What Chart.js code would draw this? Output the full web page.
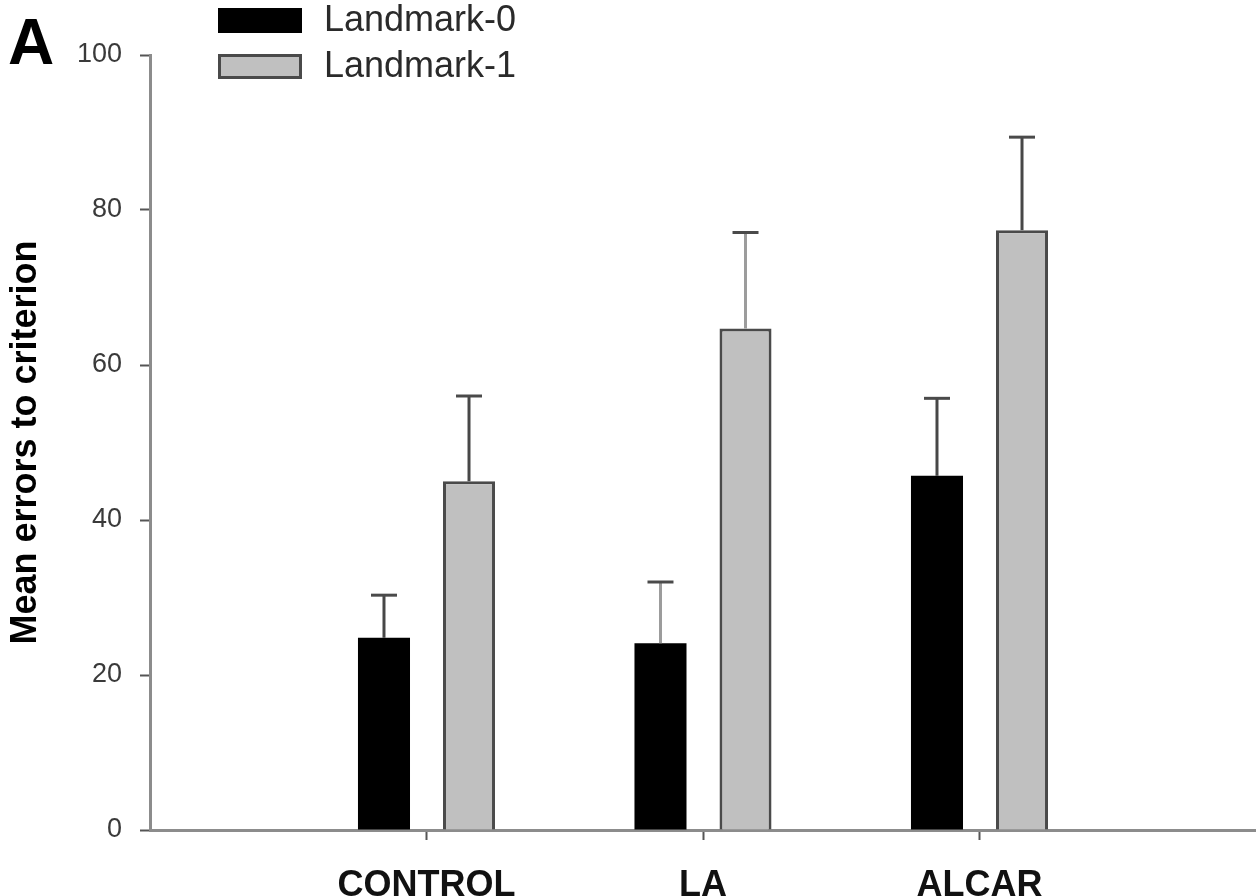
<!DOCTYPE html>
<html>
<head>
<meta charset="utf-8">
<script src="https://cdn.jsdelivr.net/npm/chart.js@4.4.1/dist/chart.umd.min.js"></script>
<style>
  html, body { margin: 0; padding: 0; background: #fff; }
  canvas { display: block; }
</style>
</head>
<body>
<canvas id="chart" width="1256" height="896"></canvas>
<script>
// Groups along the x axis (placed at positions 1..3 of a 0..4 axis)
const categories = ['CONTROL', 'LA', 'ALCAR'];
// Mean errors to criterion
const landmark0 = [24.8, 24.1, 45.7];
const landmark1 = [45.0, 64.7, 77.4];
// Upper error (SEM) for each bar
const landmark0Err = [5.5, 7.9, 10.0];
const landmark1Err = [11.0, 12.4, 12.0];
// Y axis tick values
const yTicks = [0, 20, 40, 60, 80, 100];

const FONT = '"Liberation Sans", Arial, Helvetica, sans-serif';
const errLineColors = ['#474747', '#9c9c9c', '#474747'];

const toPoints = arr => arr.map((v, i) => ({ x: i + 1, y: v }));

// Upward error whiskers with a cap
const errorBars = {
  id: 'errorBars',
  afterDatasetsDraw(chart) {
    const { ctx } = chart;
    const yScale = chart.scales.y;
    chart.data.datasets.forEach((ds, di) => {
      const meta = chart.getDatasetMeta(di);
      meta.data.forEach((bar, i) => {
        const top = yScale.getPixelForValue(ds.data[i].y + ds.errors[i]);
        ctx.save();
        ctx.strokeStyle = errLineColors[i];
        ctx.lineWidth = 3;
        ctx.beginPath();
        ctx.moveTo(bar.x, bar.y);
        ctx.lineTo(bar.x, top);
        ctx.stroke();
        ctx.strokeStyle = '#4a4a4a';
        ctx.beginPath();
        ctx.moveTo(bar.x - 13, top);
        ctx.lineTo(bar.x + 13, top);
        ctx.stroke();
        ctx.restore();
      });
    });
  }
};

// Panel letter and legend in the top-left corner
const decorations = {
  id: 'decorations',
  beforeDraw(chart) {
    const { ctx } = chart;
    ctx.save();
    ctx.fillStyle = '#fff';
    ctx.fillRect(0, 0, chart.width, chart.height);
    ctx.restore();
  },
  afterDraw(chart) {
    const { ctx } = chart;
    ctx.save();
    ctx.fillStyle = '#000';
    ctx.font = 'bold 64px ' + FONT;
    ctx.textBaseline = 'alphabetic';
    ctx.textAlign = 'left';
    ctx.fillText('A', 8, 64);

    const rows = [8, 54];
    chart.data.datasets.forEach((ds, di) => {
      const y = rows[di];
      ctx.fillStyle = ds.backgroundColor;
      ctx.fillRect(218, y, 84, 25);
      if (ds.borderWidth) {
        ctx.strokeStyle = ds.borderColor;
        ctx.lineWidth = 3;
        ctx.strokeRect(219.5, y + 1.5, 81, 22);
      }
      ctx.fillStyle = '#2a2a2a';
      ctx.font = '36px ' + FONT;
      ctx.textBaseline = 'middle';
      ctx.fillText(ds.label, 324, y + 13);
    });
    ctx.restore();
  }
};

new Chart(document.getElementById('chart'), {
  type: 'bar',
  data: {
    datasets: [
      {
        label: 'Landmark-0',
        data: toPoints(landmark0),
        errors: landmark0Err,
        backgroundColor: '#000000',
        borderWidth: 0
      },
      {
        label: 'Landmark-1',
        data: toPoints(landmark1),
        errors: landmark1Err,
        backgroundColor: '#c0c0c0',
        borderColor: '#4a4a4a',
        borderWidth: 3,
        borderSkipped: 'bottom'
      }
    ]
  },
  options: {
    responsive: false,
    animation: false,
    devicePixelRatio: 1,
    categoryPercentage: 0.615,
    barPercentage: 0.612,
    layout: { padding: { top: 55, left: 0, right: 0, bottom: 0 } },
    plugins: {
      legend: { display: false },
      tooltip: { enabled: false }
    },
    scales: {
      x: {
        type: 'linear',
        min: 0,
        max: 4,
        offset: false,
        afterBuildTicks: s => { s.ticks = [0, 1, 2, 3, 4].map(v => ({ value: v })); },
        afterFit: s => { s.height = 66; s.paddingLeft = 0; s.paddingRight = 0; },
        ticks: {
          callback: v => categories[v - 1] || '',
          font: { family: FONT, size: 36, weight: 'bold' },
          color: '#111',
          padding: 24,
          maxRotation: 0,
          autoSkip: false
        },
        grid: {
          offset: false,
          drawOnChartArea: false,
          tickLength: 10,
          tickWidth: 2,
          tickColor: c => (c.tick && (c.tick.value === 0 || c.tick.value === 4)) ? 'rgba(0,0,0,0)' : '#555'
        },
        border: { color: '#8c8c8c', width: 3 }
      },
      y: {
        min: 0,
        max: 100,
        afterBuildTicks: s => { s.ticks = yTicks.map(v => ({ value: v })); },
        afterFit: s => { s.width = 150; },
        ticks: {
          font: { family: FONT, size: 27 },
          color: '#3a3a3a',
          padding: 18
        },
        grid: {
          drawOnChartArea: false,
          tickLength: 10,
          tickWidth: 2,
          tickColor: '#555'
        },
        border: { color: '#8c8c8c', width: 3 },
        title: {
          display: true,
          text: 'Mean errors to criterion',
          font: { family: FONT, size: 36, weight: 'bold' },
          color: '#000',
          padding: { top: 4, bottom: 0 }
        }
      }
    }
  },
  plugins: [errorBars, decorations]
});
</script>
</body>
</html>
